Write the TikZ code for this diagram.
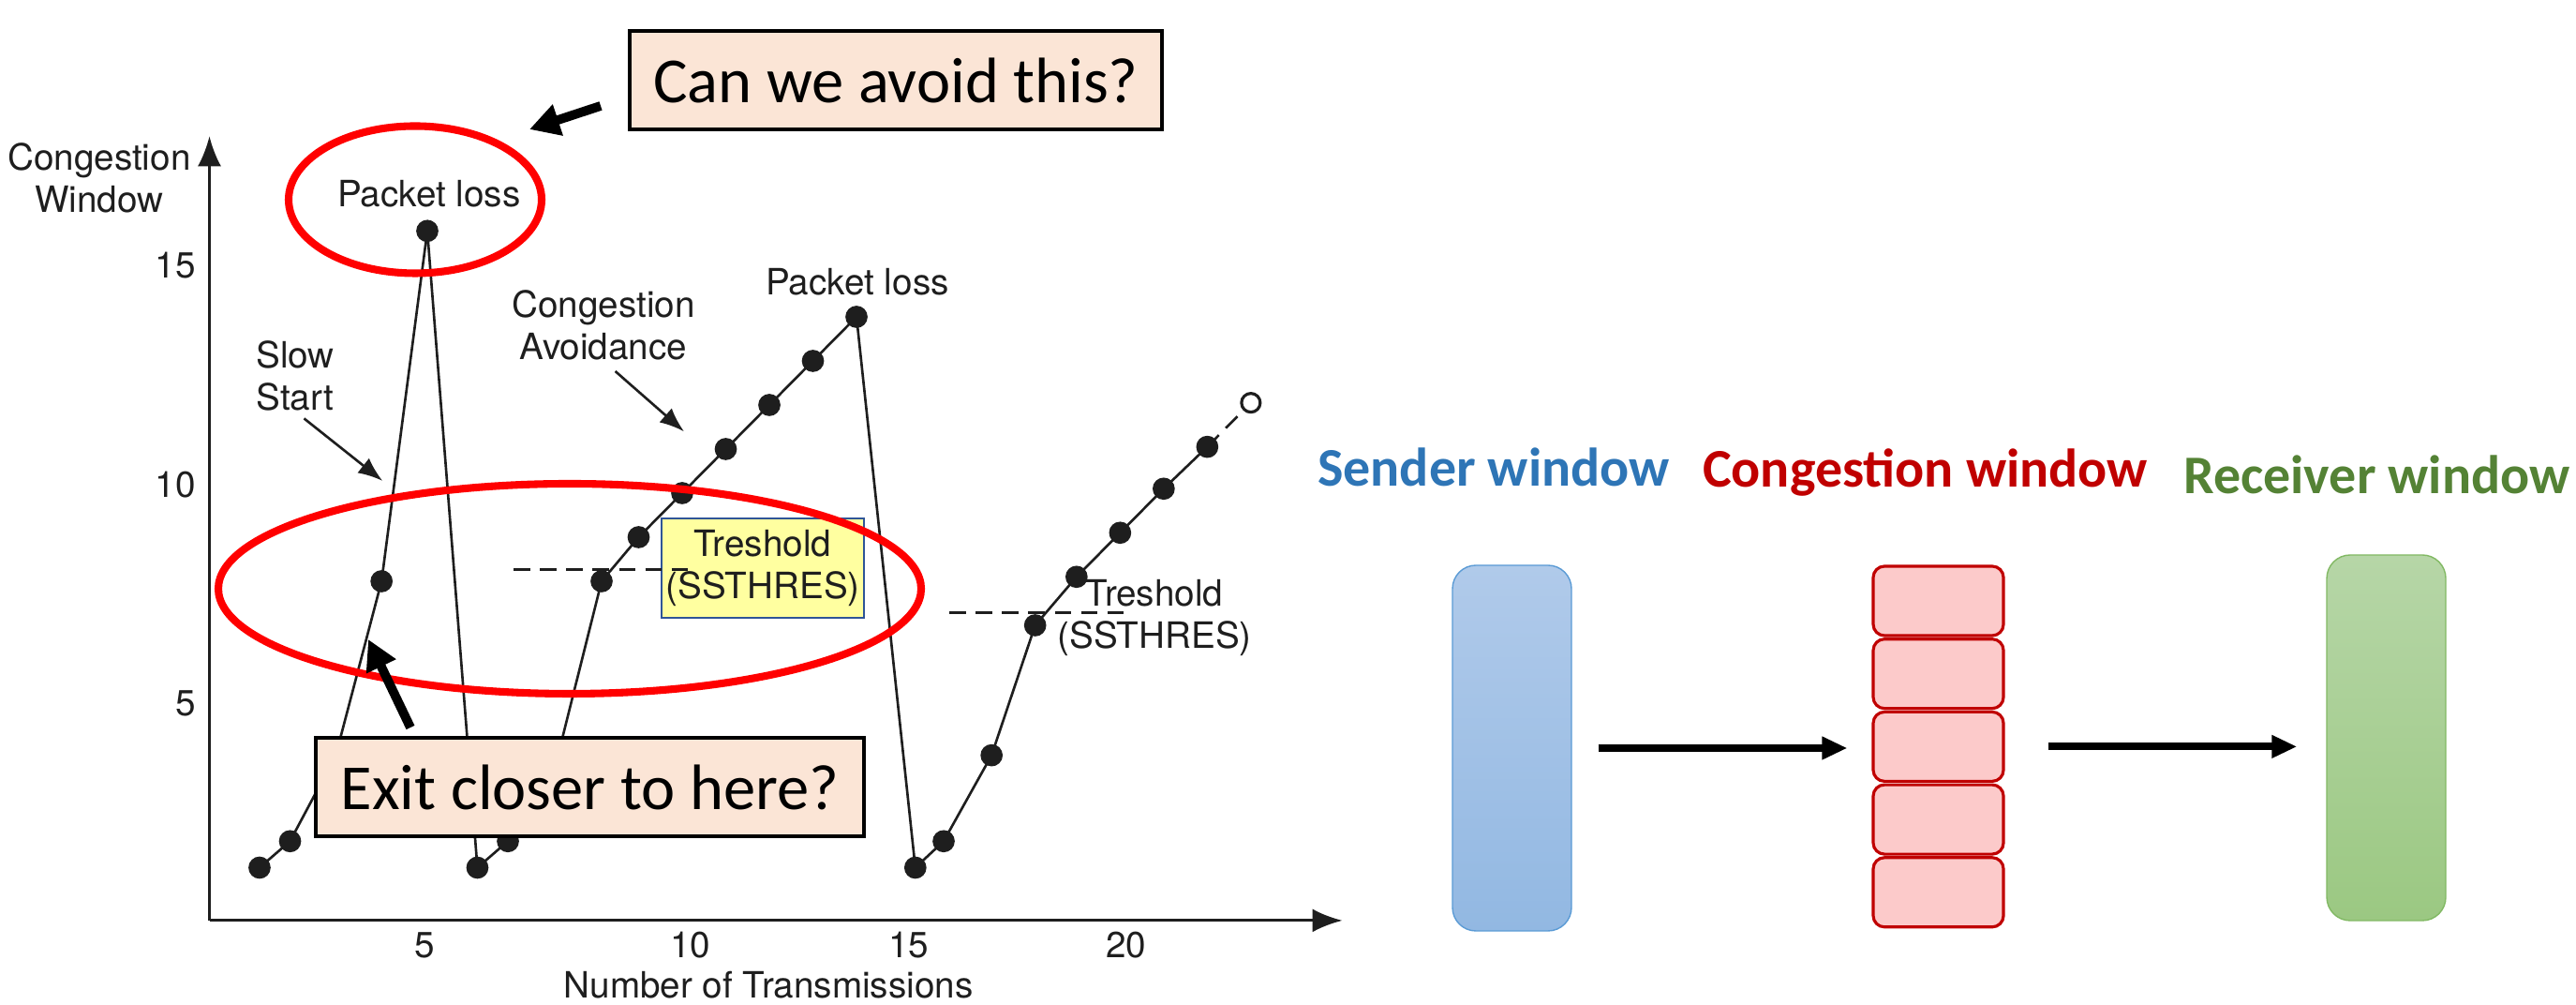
\documentclass[tikz,border=0pt]{standalone}
\usepackage{fontspec}
\setmainfont{TeX Gyre Heros}
\newfontfamily\calibri{Carlito}
\usetikzlibrary{arrows.meta}

\definecolor{plotgray}{RGB}{30,30,30}
\definecolor{sendblue}{RGB}{46,117,182}
\definecolor{congred}{RGB}{192,0,0}
\definecolor{recvgreen}{RGB}{84,130,53}
\definecolor{calloutfill}{RGB}{251,229,214}
\definecolor{treshfill}{RGB}{255,255,160}
\definecolor{treshline}{RGB}{47,85,151}
\definecolor{slotfill}{RGB}{252,202,202}

\begin{document}
\begin{tikzpicture}[>={Latex[length=2.6mm,width=2mm]},
  chartaxis/.style={-{Latex[length=3.2mm,width=2.5mm]},plotgray,line width=0.85pt},
  plotline/.style={color=plotgray,line width=0.75pt},
  tresh/.style={plotgray,line width=0.9pt,dash pattern=on 5pt off 3pt},
  chartlabel/.style={text=plotgray,inner sep=0pt,font=\fontsize{11}{12.8}\selectfont},
  hint/.style={->,plotgray,line width=0.75pt},
  treshbox/.style={chartlabel,draw=treshline,line width=0.6pt,fill=treshfill,
    minimum width=2.16cm,minimum height=1.06cm,align=center},
  redring/.style={red,line width=2.3pt},
  callout/.style={draw=black,line width=1.2pt,fill=calloutfill,inner sep=0pt,
    minimum height=1.05cm,font=\calibri\fontsize{19.5}{23}\selectfont},
  callarrow/.style={-{Triangle[length=3.2mm,width=3.3mm]},line width=2.8pt},
  flowarrow/.style={-{Triangle[length=2.7mm,width=2.3mm]},line width=2.3pt},
  windowtitle/.style={anchor=base,inner sep=0pt,font=\calibri\bfseries\fontsize{16.5}{20}\selectfont},
  windowbar/.style={rounded corners=0.25cm,minimum width=1.27cm,minimum height=3.9cm,
    inner sep=0pt,line width=0.4pt},
  cwslot/.style={draw=congred,line width=0.9pt,fill=slotfill,rounded corners=0.12cm,
    minimum width=1.39cm,minimum height=0.74cm,inner sep=0pt}]
\useasboundingbox (0,0) rectangle (27.49,10.72);

% the chart, in transmissions and segments
\begin{scope}[shift={(2.235,0.76)},x=0.465cm,y=0.47cm]
  \draw[chartaxis] (0,0.3) -- (0,18.1);
  \draw[chartaxis] (0,0.3) -- (26,0.3);
  \node[chartlabel,align=center] (ylab) at (-2.53,17.15) {Congestion\\Window};
  \node[chartlabel] (xlab) at (12.83,-1.17) {Number of Transmissions};
  \node[chartlabel,anchor=east] (y15) at (-0.3,15.17) {15};
  \node[chartlabel,anchor=east] (y10) at (-0.3,10.19) {10};
  \node[chartlabel,anchor=east] (y5) at (-0.3,5.23) {5};
  \node[chartlabel] (x5) at (4.94,-0.26) {5};
  \node[chartlabel] (x10) at (11.04,-0.26) {10};
  \node[chartlabel] (x15) at (16.05,-0.26) {15};
  \node[chartlabel] (x20) at (21.04,-0.26) {20};

  \draw[plotline] plot[mark=*,mark size=1.05mm] coordinates {(1.15,1.5) (1.85,2.1)
    (2.9,4.05) (3.95,8) (5,15.95) (6.15,1.5) (6.85,2.1) (8,4.05) (9,8) (9.85,9)
    (10.85,10) (11.85,11) (12.85,12) (13.85,13) (14.85,14) (16.2,1.5) (16.85,2.1)
    (17.95,4.05) (18.95,7) (19.9,8.1) (20.9,9.1) (21.9,10.1) (22.9,11.05)};
  \draw[tresh,line width=0.75pt] (22.9,11.05) -- (23.9,12.05);
  \draw[plotline,line width=0.9pt,fill=white] (23.9,12.05) circle (1mm);

  \node[treshbox] (tresh1) at (12.70,8.30) {Treshold\\(SSTHRES)};
  \draw[tresh] (6.98,8.26) -- (11.04,8.26);
  \draw[tresh] (16.98,7.28) -- (21.0,7.28);
  \node[chartlabel,align=center] (tresh2) at (21.69,7.17) {Treshold\\(SSTHRES)};

  \node[chartlabel] (loss1) at (5.04,16.8) {Packet loss};
  \node[chartlabel] (loss2) at (14.87,14.8) {Packet loss};
  \node[chartlabel,align=left] (slowlab) at (1.97,12.66) {Slow\\Start};
  \node[chartlabel,align=center] (avoidlab) at (9.04,13.81) {Congestion\\Avoidance};
  \coordinate (sstip) at (3.97,10.28);
  \coordinate (catip) at (10.89,11.4);
  \draw[hint,shorten <=1.2mm] (slowlab.south) -- (sstip);
  \draw[hint,shorten <=1.7mm] (avoidlab.south) -- (catip);
\end{scope}

% what the slide asks
\draw[redring] (4.43,8.59) ellipse [x radius=1.35, y radius=0.785];
\draw[redring] (6.08,4.44) ellipse [x radius=3.75, y radius=1.12];

\node[callout,minimum width=5.68cm] (avoid) at (9.56,9.865) {Can we avoid this?};
\node[callout,minimum width=5.85cm] (exitbox) at (6.295,2.325) {Exit closer to here?};
\coordinate (avoidtail) at (6.41,9.59);
\coordinate (avoidtip) at (5.65,9.34);
\coordinate (exittail) at (4.38,2.96);
\coordinate (exittip) at (3.93,3.90);
\draw[callarrow] (avoidtail) -- (avoidtip);
\draw[callarrow] (exittail) -- (exittip);

% the three windows
\node[windowtitle,text=sendblue] (sendertitle) at (15.94,5.53) {Sender window};
\node[windowtitle,text=congred] (congtitle) at (20.545,5.52) {Congestion window};
\node[windowtitle,text=recvgreen] (recvtitle) at (25.365,5.45) {Receiver window};

\node[windowbar,draw={rgb,255:red,91;green,155;blue,213},
  top color={rgb,255:red,176;green,202;blue,234},
  bottom color={rgb,255:red,146;green,184;blue,226}] (sender) at (16.135,2.74) {};
\foreach \i in {1,...,5}
  \node[cwslot] (cw\i) at (20.685,{4.31-0.777*(\i-1)}) {};
\node[windowbar,draw={rgb,255:red,130;green,185;blue,100},
  top color={rgb,255:red,182;green,214;blue,167},
  bottom color={rgb,255:red,155;green,200;blue,130}] (receiver) at (25.465,2.85) {};

\draw[flowarrow,shorten <=0.28cm,shorten >=0.26cm] (sender.east) -- (sender.east -| cw3.west);
\draw[flowarrow,shorten <=0.46cm,shorten >=0.31cm] (cw3.east) -- (cw3.east -| receiver.west);
\end{tikzpicture}
\end{document}
